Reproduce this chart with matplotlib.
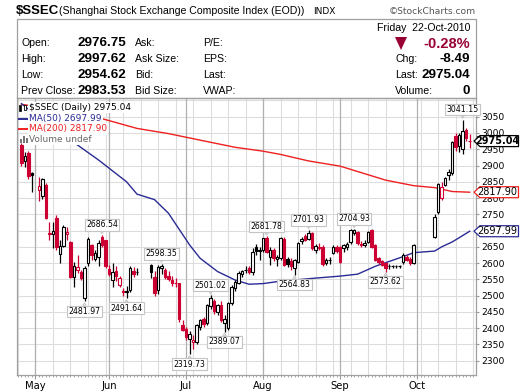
import numpy as np
import matplotlib.pyplot as plt
from matplotlib.patches import Rectangle, Polygon
from matplotlib.lines import Line2D

# $SSEC daily bars (Apr 27 - Oct 22, 2010)
dates = ['2010-04-27', '2010-04-28', '2010-04-29', '2010-04-30',
         '2010-05-04', '2010-05-05', '2010-05-06', '2010-05-07', '2010-05-10',
         '2010-05-11', '2010-05-12', '2010-05-13', '2010-05-14', '2010-05-17',
         '2010-05-18', '2010-05-19', '2010-05-20', '2010-05-21', '2010-05-24',
         '2010-05-25', '2010-05-26', '2010-05-27', '2010-05-28', '2010-05-31',
         '2010-06-01', '2010-06-02', '2010-06-03', '2010-06-04', '2010-06-07',
         '2010-06-08', '2010-06-09', '2010-06-10', '2010-06-11', '2010-06-17',
         '2010-06-18', '2010-06-21', '2010-06-22', '2010-06-23', '2010-06-24',
         '2010-06-25', '2010-06-28', '2010-06-29', '2010-06-30',
         '2010-07-01', '2010-07-02', '2010-07-05', '2010-07-06', '2010-07-07',
         '2010-07-08', '2010-07-09', '2010-07-12', '2010-07-13', '2010-07-14',
         '2010-07-15', '2010-07-16', '2010-07-19', '2010-07-20', '2010-07-21',
         '2010-07-22', '2010-07-23', '2010-07-26', '2010-07-27', '2010-07-28',
         '2010-07-29', '2010-07-30',
         '2010-08-02', '2010-08-03', '2010-08-04', '2010-08-05', '2010-08-06',
         '2010-08-09', '2010-08-10', '2010-08-11', '2010-08-12', '2010-08-13',
         '2010-08-16', '2010-08-17', '2010-08-18', '2010-08-19', '2010-08-20',
         '2010-08-23', '2010-08-24', '2010-08-25', '2010-08-26', '2010-08-27',
         '2010-08-30', '2010-08-31',
         '2010-09-01', '2010-09-02', '2010-09-03', '2010-09-06', '2010-09-07',
         '2010-09-08', '2010-09-09', '2010-09-10', '2010-09-13', '2010-09-14',
         '2010-09-15', '2010-09-16', '2010-09-17', '2010-09-20', '2010-09-21',
         '2010-09-22', '2010-09-23', '2010-09-24', '2010-09-27', '2010-09-28',
         '2010-09-29', '2010-09-30',
         '2010-10-08', '2010-10-11', '2010-10-12', '2010-10-13', '2010-10-14',
         '2010-10-15', '2010-10-18', '2010-10-19', '2010-10-20', '2010-10-21',
         '2010-10-22']
opens = [2963, 2915, 2937, 2876,
         2825, 2806, 2840, 2694, 2690, 2740, 2628, 2652, 2690, 2665,
         2558, 2580, 2574, 2492, 2599, 2655, 2612, 2620, 2680, 2670,
         2581, 2548, 2577, 2533, 2514, 2512, 2517, 2575, 2572, 2594,
         2558, 2517, 2586, 2580, 2560, 2548, 2540, 2538, 2410,
         2396, 2366, 2358, 2358, 2405, 2427, 2415, 2468, 2485, 2450,
         2471, 2417, 2399, 2476, 2523, 2538, 2565, 2580, 2585, 2574,
         2650, 2636,
         2640, 2678, 2620, 2640, 2612, 2615, 2674, 2612, 2605, 2584,
         2604, 2668, 2682, 2675, 2691, 2640, 2650, 2650, 2600, 2608,
         2630, 2650,
         2650, 2645, 2648, 2666, 2692, 2697, 2660, 2655, 2666, 2702,
         2656, 2615, 2605, 2599, 2590, 2590, 2590, 2590, 2603, 2620,
         2612, 2600,
         2681, 2756, 2800, 2840, 2870, 2878, 2992, 2960, 2950, 3008,
         2976.75]
highs = [2968, 2942, 2946, 2880,
         2866, 2862, 2846, 2727, 2727, 2748, 2670, 2716, 2712, 2668,
         2604, 2625, 2580, 2590, 2681, 2660, 2640, 2672, 2686.54, 2672,
         2595, 2599, 2590, 2560, 2522, 2530, 2590, 2588, 2586, 2598,
         2575, 2594, 2598.35, 2585, 2575, 2560, 2555, 2540, 2425,
         2405, 2390, 2380, 2412, 2428, 2435, 2475, 2501.02, 2490, 2475,
         2485, 2440, 2480, 2532, 2548, 2575, 2580, 2590, 2592, 2645,
         2660, 2650,
         2678, 2681.78, 2648, 2645, 2625, 2680, 2680, 2620, 2615, 2612,
         2665, 2680, 2690, 2701.93, 2695, 2660, 2662, 2655, 2615, 2618,
         2655, 2655,
         2652, 2660, 2665, 2705, 2704.93, 2700, 2668, 2670, 2700, 2704,
         2660, 2618, 2610, 2602, 2596, 2595, 2595, 2595, 2632, 2625,
         2618, 2660,
         2750, 2845, 2850, 2866, 2890, 2975, 3000, 3000, 3041.15, 3015,
         2997.62]
lows = [2900, 2895, 2860, 2820,
        2790, 2798, 2735, 2670, 2646, 2640, 2600, 2650, 2670, 2555,
        2527, 2570, 2548, 2481.97, 2592, 2610, 2605, 2590, 2650, 2585,
        2560, 2527, 2545, 2525, 2500, 2491.64, 2510, 2558, 2562, 2555,
        2500, 2505, 2565, 2550, 2545, 2530, 2525, 2420, 2390,
        2365, 2319.73, 2335, 2350, 2395, 2405, 2410, 2460, 2445, 2440,
        2420, 2389.07, 2395, 2470, 2515, 2535, 2558, 2570, 2565, 2563,
        2625, 2610,
        2635, 2630, 2595, 2605, 2590, 2610, 2590, 2588, 2580, 2564.83,
        2600, 2660, 2668, 2670, 2640, 2630, 2640, 2592, 2595, 2598,
        2628, 2630,
        2600, 2635, 2640, 2660, 2685, 2655, 2650, 2648, 2662, 2645,
        2605, 2598, 2590, 2573.62, 2582, 2585, 2585, 2585, 2598, 2605,
        2595, 2598,
        2676, 2750, 2795, 2838, 2855, 2870, 2945, 2940, 2935, 2975,
        2954.62]
closes = [2909, 2929, 2868, 2871,
          2836, 2857, 2739, 2688, 2698, 2648, 2652, 2710, 2697, 2558,
          2591, 2588, 2553, 2584, 2673, 2625, 2630, 2662, 2656, 2592,
          2566, 2574, 2560, 2553, 2510, 2514, 2584, 2566, 2573, 2574,
          2507, 2589, 2592, 2558, 2552, 2540, 2538, 2427, 2395,
          2372, 2382, 2365, 2410, 2425, 2413, 2471, 2492, 2452, 2470,
          2425, 2427, 2476, 2528, 2543, 2569, 2575, 2578, 2574, 2635,
          2636, 2640,
          2676, 2635, 2640, 2615, 2618, 2676, 2594, 2597, 2590, 2609,
          2661, 2675, 2672, 2692, 2645, 2652, 2645, 2596, 2610, 2611,
          2650, 2636,
          2604, 2656, 2660, 2702, 2703, 2661, 2655, 2662, 2697, 2650,
          2610, 2603, 2594, 2584, 2590, 2590, 2590, 2590, 2625, 2610,
          2600, 2655,
          2743, 2842, 2835, 2862, 2880, 2971, 2958, 2995, 3005, 2983.53,
          2975.04]

ma50_dates = ['2010-04-27', '2010-05-06', '2010-05-19', '2010-05-27', '2010-06-08',
              '2010-06-11', '2010-06-18', '2010-06-24', '2010-07-02', '2010-07-07',
              '2010-07-14', '2010-07-21', '2010-07-27', '2010-08-02', '2010-08-06',
              '2010-08-20', '2010-09-01', '2010-09-08', '2010-09-15', '2010-09-21',
              '2010-09-27', '2010-09-30', '2010-10-08', '2010-10-12', '2010-10-15',
              '2010-10-19', '2010-10-22']
ma50_vals = [3090, 3030, 2963, 2917, 2850, 2812, 2795, 2753, 2656, 2615,
             2574, 2548, 2535, 2537, 2543, 2553, 2560, 2566, 2590, 2605,
             2620, 2632, 2637, 2650, 2665, 2678, 2697.99]

ma200_dates = ['2010-04-27', '2010-05-14', '2010-05-28', '2010-06-11', '2010-06-24',
               '2010-07-07', '2010-07-21', '2010-08-02', '2010-08-09', '2010-08-19',
               '2010-09-01', '2010-09-20', '2010-09-30', '2010-10-08', '2010-10-15',
               '2010-10-22']
ma200_vals = [3088, 3068, 3044, 3014, 2998, 2978, 2956, 2944, 2934, 2914,
              2898, 2855, 2838, 2832, 2820, 2817.90]

ann_dates = ['2010-05-28', '2010-05-21', '2010-06-08', '2010-06-22', '2010-07-12',
             '2010-07-02', '2010-07-16', '2010-08-03', '2010-08-13', '2010-08-19',
             '2010-09-07', '2010-09-20', '2010-10-20']
ann_vals = [2686.54, 2481.97, 2491.64, 2598.35, 2501.02, 2319.73, 2389.07,
            2681.78, 2564.83, 2701.93, 2704.93, 2573.62, 3041.15]
ann_high = [True, False, False, True, True, False, False, True, False, True,
            True, False, True]

months = ['May', 'Jun', 'Jul', 'Aug', 'Sep', 'Oct']
month_starts = ['2010-05-01', '2010-06-01', '2010-07-01', '2010-08-01',
                '2010-09-01', '2010-10-01']
yticks = list(range(2300, 3051, 50))

RED = '#cc0033'
NAVY = '#2b2b95'
MA_RED = '#ee2020'
GRID = '#dddddd'

W, H = 520, 391
def fx(x):
    return x / W
def fy(y):
    return 1 - y / H

# x position = weekday count from Mon 3-May-2010 (holidays leave gaps)
base = '2010-05-03'
def xpos(ds):
    return np.busday_count(base, np.array(ds, dtype='datetime64[D]'))

pos = xpos(dates)
o = np.array(opens, float)
hi = np.array(highs, float)
lo = np.array(lows, float)
c = np.array(closes, float)

fig = plt.figure(figsize=(W / 100, H / 100), dpi=100)
ax = fig.add_axes([fx(16.5), fy(375), (476 - 16.5) / W, (375 - 98) / H])
ax.set_xlim(-5.42, 125.8)
ax.set_ylim(2256, 3107.5)

# grid
for v in range(2300, 3101, 50):
    ax.axhline(v, color=GRID, lw=0.8, zorder=0)
for p in range(-5, 126, 5):
    ax.axvline(p, color=GRID, lw=0.8, zorder=0)
mpos = xpos([np.busday_offset(m, 0, roll='forward') for m in month_starts])
for p in mpos:
    ax.axvline(p, color='#b0b0b0', lw=0.9, zorder=0)

# moving averages
ax.plot(xpos(ma200_dates), ma200_vals, color=MA_RED, lw=1.0, zorder=2)
ax.plot(xpos(ma50_dates), ma50_vals, color=NAVY, lw=1.0, zorder=2)

# candles
prev = np.r_[o[0], c[:-1]]
for i in range(len(pos)):
    col = 'black' if c[i] >= prev[i] else RED
    face = col if c[i] < o[i] else 'white'
    ax.vlines(pos[i], lo[i], hi[i], color=col, lw=0.9, zorder=3)
    b0 = min(o[i], c[i])
    ax.bar(pos[i], max(abs(c[i] - o[i]), 0.01), bottom=b0, width=0.74,
           facecolor=face, edgecolor=col, linewidth=0.8, zorder=4)

# high / low callouts
for d, v, up in zip(ann_dates, ann_vals, ann_high):
    p = xpos([d])[0]
    ax.annotate(f'{v:.2f}', xy=(p, v), xytext=(0, 10 if up else -10),
                textcoords='offset pixels', ha='center', va='center',
                fontsize=5.6, family='DejaVu Sans', zorder=6,
                bbox=dict(boxstyle='square,pad=0.18', fc='white', ec='#c4c4c4', lw=0.8),
                arrowprops=dict(arrowstyle='wedge,tail_width=0.4', fc='white',
                                ec='#c4c4c4', lw=0.7, shrinkA=0, shrinkB=1))

# axes styling; the 2700 label sits fully under the MA(50) tag
ax.yaxis.tick_right()
ax.set_yticks(yticks)
ax.set_yticklabels(['' if t == 2700 else str(t) for t in yticks])
ax.tick_params(axis='y', length=2, pad=2, labelsize=6.6, color='#999999')
ax.set_xticks(mpos)
ax.set_xticklabels(months, fontsize=7.2)
ax.set_xticks(np.arange(-5, 126), minor=True)
ax.tick_params(axis='x', which='major', length=3, pad=1, color='#999999')
ax.tick_params(axis='x', which='minor', length=1.5, color='#999999')
for s in ax.spines.values():
    s.set_color('#a0a0a0')
    s.set_linewidth(0.9)

# in-chart legend
leg_font = dict(fontsize=6.5, family='DejaVu Sans', va='center', ha='left',
                bbox=dict(boxstyle='square,pad=0.12', fc='white', ec='none'))
fig.text(fx(29), fy(107.5), f'$SSEC (Daily) {c[-1]:.2f}', color='black', **leg_font)
fig.text(fx(29), fy(118.5), f'MA(50) {ma50_vals[-1]:.2f}', color=NAVY, **leg_font)
fig.text(fx(29), fy(129), f'MA(200) {ma200_vals[-1]:.2f}', color=MA_RED, **leg_font)
fig.text(fx(29), fy(139.5), 'Volume undef', color='#666666', **leg_font)
fig.add_artist(Rectangle((fx(19), fy(111)), 2 / W, 6 / H, transform=fig.transFigure,
                         fc='black', ec='black', lw=0.5))
fig.add_artist(Rectangle((fx(23.5), fy(110)), 2 / W, 5 / H, transform=fig.transFigure,
                         fc='white', ec='black', lw=0.6))
fig.add_artist(Line2D([fx(19), fx(28)], [fy(118.5), fy(118.5)], transform=fig.transFigure,
                      color=NAVY, lw=1.4))
fig.add_artist(Line2D([fx(19), fx(28)], [fy(129), fy(129)], transform=fig.transFigure,
                      color=MA_RED, lw=1.4))
for k, hh in enumerate([4, 7, 5]):
    fig.add_artist(Rectangle((fx(19.5 + 3 * k), fy(143)), 2 / W, hh / H,
                             transform=fig.transFigure, fc='#777777', ec='none'))

# last-value tags on the right axis
fig.canvas.draw()
def tag(val, ec, bold):
    y = ax.transData.transform((0, val))[1]
    x0 = ax.transAxes.transform((1, 0))[0]
    pts = [(x0 - 2, y), (x0 + 4, y - 5.5), (518.5, y - 5.5), (518.5, y + 5.5), (x0 + 4, y + 5.5)]
    pts = [(px / W, py / H) for px, py in pts]
    fig.add_artist(Polygon(pts, closed=True, transform=fig.transFigure, fc='white',
                           ec=ec, lw=0.9, zorder=5))
    fig.text(fx(497), y / H, f'{val:.2f}', ha='center', va='center', fontsize=7,
             family='DejaVu Sans', fontweight='bold' if bold else 'normal',
             color='black', zorder=6)
tag(c[-1], 'black', True)
tag(ma200_vals[-1], MA_RED, False)
tag(ma50_vals[-1], NAVY, False)

# header
fig.text(fx(16), fy(11), '$SSEC', fontsize=9.5, fontweight='bold',
         family='Liberation Sans', va='center')
fig.text(fx(59), fy(11), '(Shanghai Stock Exchange Composite Index (EOD))',
         fontsize=7.6, family='Liberation Sans', va='center')
fig.text(fx(313), fy(11), 'INDX', fontsize=6.5, family='DejaVu Sans', va='center')
fig.text(fx(476), fy(11), '\u00a9StockCharts.com', fontsize=6.6, family='DejaVu Sans',
         va='center', ha='right', color='#555555')

# info box
fig.add_artist(Rectangle((fx(16.5), fy(98)), (476 - 16.5) / W, (98 - 19) / H,
                         transform=fig.transFigure, fc='none', ec='#a0a0a0', lw=0.9))
lab = dict(fontsize=7.6, family='Liberation Sans', va='center')
val = dict(fontsize=9.6, family='Liberation Sans', fontweight='bold', va='center', ha='right')
rows_y = [43, 59, 75, 91]
col1 = ['Open:', 'High:', 'Low:', 'Prev Close:']
col1_vals = [opens[-1], highs[-1], lows[-1], closes[-2]]
col2 = ['Ask:', 'Ask Size:', 'Bid:', 'Bid Size:']
col3 = ['P/E:', 'EPS:', 'Last:', 'VWAP:']
for y, a, v, b, d in zip(rows_y, col1, col1_vals, col2, col3):
    fig.text(fx(21), fy(y), a, **lab)
    fig.text(fx(126), fy(y), f'{v:.2f}', **val)
    fig.text(fx(135), fy(y), b, **lab)
    fig.text(fx(203), fy(y), d, **lab)

chg = closes[-1] - closes[-2]
pct = chg / closes[-2] * 100
fig.text(fx(470), fy(28), 'Friday  22-Oct-2010', ha='right', **lab)
fig.add_artist(Polygon([(fx(395), fy(37)), (fx(407), fy(37)), (fx(401), fy(50))],
                       closed=True, transform=fig.transFigure, fc='#990033', ec='none'))
fig.text(fx(470), fy(43.5), f'{pct:.2f}%', fontsize=10.5, family='Liberation Sans',
         fontweight='bold', color='#990033', va='center', ha='right')
fig.text(fx(395), fy(59), 'Chg:', **lab)
fig.text(fx(470), fy(59), f'{chg:.2f}', **val)
fig.text(fx(395), fy(75), 'Last:', **lab)
fig.text(fx(470), fy(75), f'{closes[-1]:.2f}', **val)
fig.text(fx(395), fy(91), 'Volume:', **lab)
fig.text(fx(470), fy(91), '0', **val)

fig.savefig('out.png', dpi=100)
